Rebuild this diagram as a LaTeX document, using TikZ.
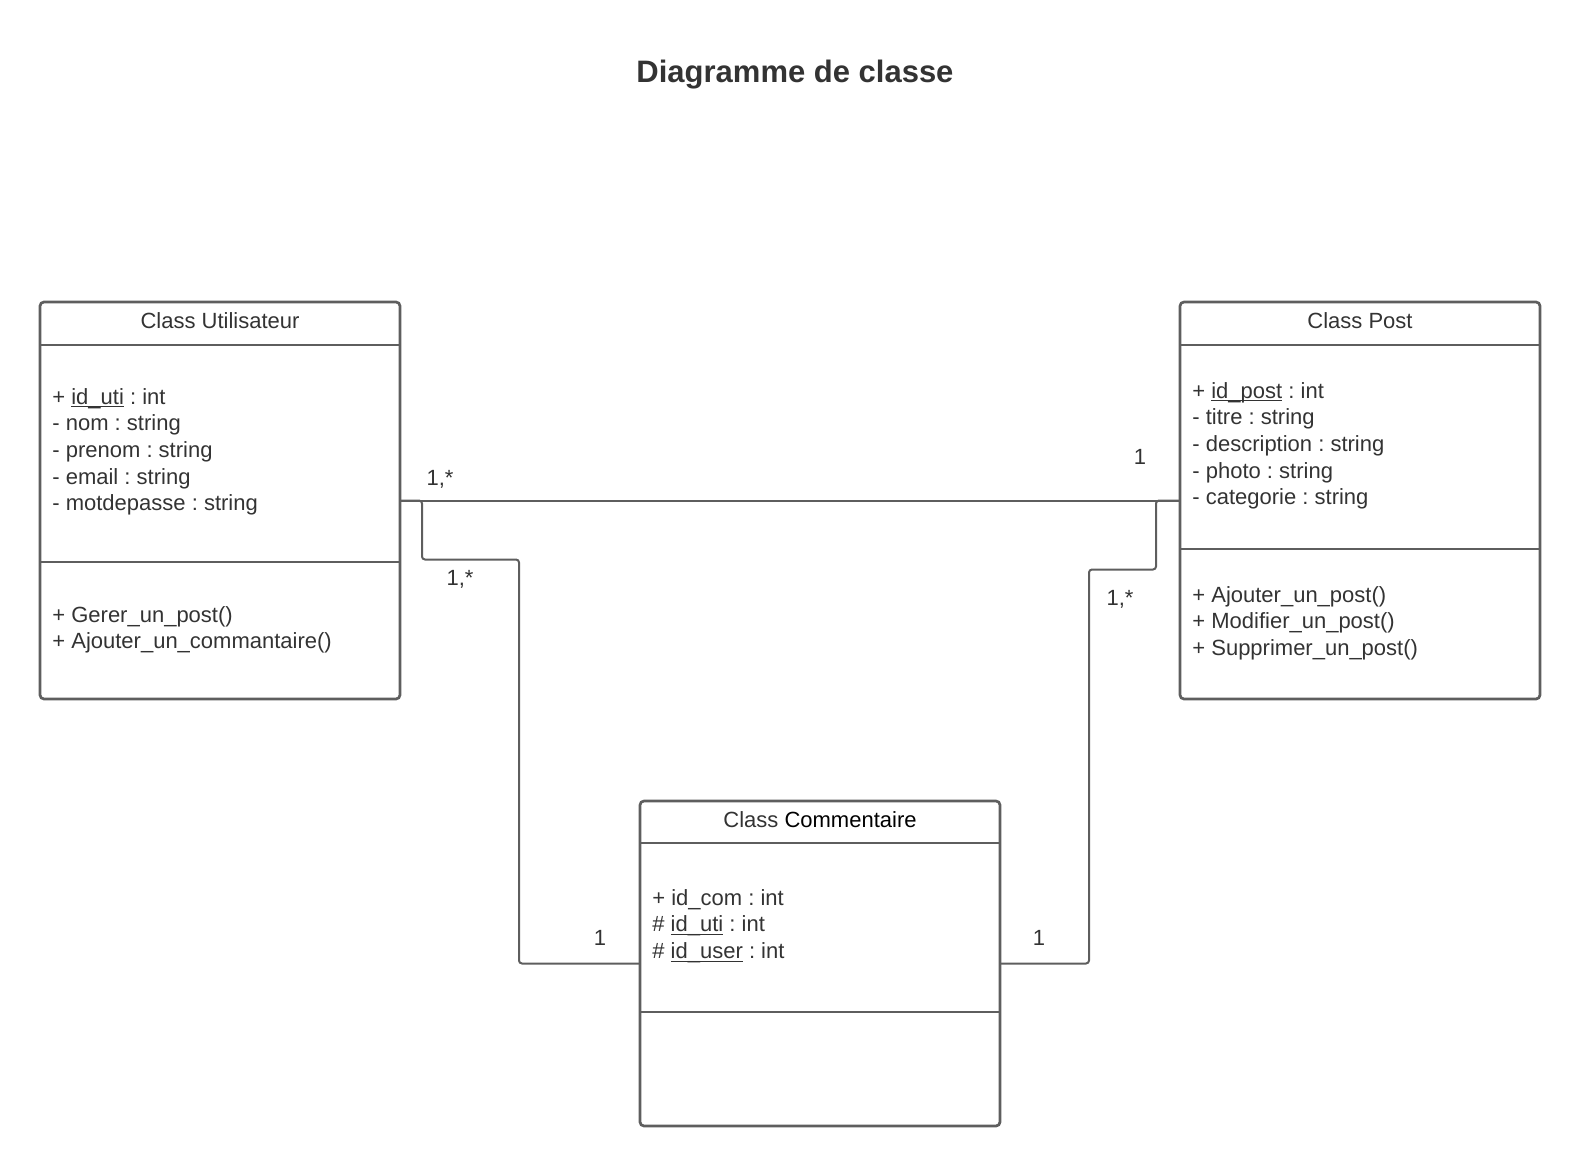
\documentclass[tikz,border=0pt]{standalone}
\usepackage{fontspec}
\setmainfont{Liberation Sans}
\usetikzlibrary{positioning, calc}
\definecolor{umlLine}{RGB}{94, 94, 94}
\definecolor{umlText}{RGB}{51, 51, 51}
\newcommand{\ulattr}[1]{\underline{\smash{#1}}}
\frenchspacing

\begin{document}
\begin{tikzpicture}[
    x=0.5pt, y=-0.5pt,
    classbox/.style={rectangle, draw=umlLine, line width=1.35pt, rounded corners=2pt,
                     minimum width=180pt, inner sep=0pt, outer sep=0pt},
    sep/.style={draw=umlLine, line width=1.35pt},
    head/.style={anchor=base, text=umlText, font=\fontsize{11}{13.35}\selectfont},
    attr/.style={anchor=north west, align=left, inner sep=0pt, text=umlText,
                 font=\fontsize{11}{13.35}\selectfont},
    mult/.style={anchor=base, text=umlText, font=\fontsize{11}{13.35}\selectfont},
    assoc/.style={draw=umlLine, line width=1pt, rounded corners=1.5pt},
  ]
    \useasboundingbox (0,0) rectangle (1580,1167);

    \node[anchor=base, text=umlText, font=\fontsize{15.5}{18}\selectfont\bfseries] (title) at (795,82) {Diagramme de classe};

    % classes
    \node[classbox, minimum height=198.5pt] (uti) at (220,500.5) {};
    \node[classbox, minimum height=198.5pt] (post) at (1360,500.5) {};
    \node[classbox, minimum height=162.5pt] (com) at (820,963.5) {};

    \draw[sep] ($(uti.north west)+(0,43)$) -- ($(uti.north east)+(0,43)$);
    \draw[sep] ($(uti.north west)+(0,260)$) -- ($(uti.north east)+(0,260)$);
    \draw[sep] ($(post.north west)+(0,43)$) -- ($(post.north east)+(0,43)$);
    \draw[sep] ($(post.north west)+(0,247)$) -- ($(post.north east)+(0,247)$);
    \draw[sep] ($(com.north west)+(0,42)$) -- ($(com.north east)+(0,42)$);
    \draw[sep] ($(com.north west)+(0,211)$) -- ($(com.north east)+(0,211)$);

    \node[head] (utiHead) at ($(uti.north)+(0,26)$) {Class Utilisateur};
    \node[attr] (utiAttr) at ($(uti.north west)+(12,83)$) {\strut+ \ulattr{id\_uti} : int\\- nom : string\\- prenom : string\\- email : string\\- motdepasse : string};
    \node[attr] (utiOps) at ($(uti.north west)+(12,301)$) {\strut+ Gerer\_un\_post()\\+ Ajouter\_un\_commantaire()};

    \node[head] (postHead) at ($(post.north)+(0,26)$) {Class Post};
    \node[attr] (postAttr) at ($(post.north west)+(12,77)$) {\strut+ \ulattr{id\_post} : int\\- titre : string\\- description : string\\- photo : string\\- categorie : string};
    \node[attr] (postOps) at ($(post.north west)+(12,281)$) {\strut+ Ajouter\_un\_post()\\+ Modifier\_un\_post()\\+ Supprimer\_un\_post()};

    \node[head] (comHead) at ($(com.north)+(0,26)$) {Class \textcolor{black}{Commentaire}};
    \node[attr] (comAttr) at ($(com.north west)+(12,85)$) {\strut+ id\_com : int\\\# \ulattr{id\_uti} : int\\\# \ulattr{id\_user} : int};

    % associations
    \draw[assoc] (uti.east) -- (post.west);
    \draw[assoc] (uti.east) -- ++(22,0) |- ++(97,59) |- (com.west);
    \draw[assoc] (post.west) -- ++(-24,0) |- ++(-67,69) |- (com.east);

    \node[mult] (mUtiPost) at (440,485) {1,*};
    \node[mult] (mPostUti) at (1140,464) {1};
    \node[mult] (mUtiCom) at (460,585) {1,*};
    \node[mult] (mPostCom) at (1120,605) {1,*};
    \node[mult] (mComUti) at (600,945) {1};
    \node[mult] (mComPost) at (1039,945) {1};
  \end{tikzpicture}
\end{document}
